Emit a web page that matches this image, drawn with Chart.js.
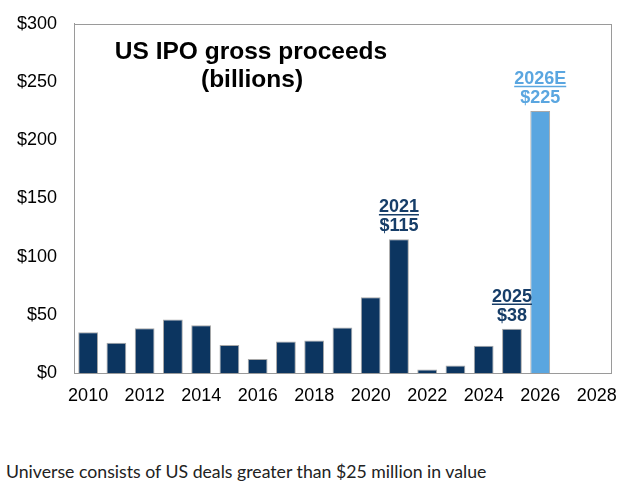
<!DOCTYPE html>
<html>
<head>
<meta charset="utf-8">
<script src="https://cdn.jsdelivr.net/npm/chart.js@4.4.1/dist/chart.umd.min.js"></script>
<style>
  html, body { margin: 0; padding: 0; background: #fff; overflow: hidden; width: 626px; height: 487px; }
  #wrap { position: absolute; left: 0; top: -4px; width: 629px; height: 420px; }
  #note { position: absolute; left: 6px; top: 461px; font-family: Lato, "Open Sans", sans-serif; font-size: 17.7px; line-height: 1.2; color: #222; white-space: nowrap; }
</style>
</head>
<body>
<div id="wrap"><canvas id="c" width="629" height="420"></canvas></div>
<div id="note">Universe consists of US deals greater than $25 million in value</div>
<script>
const years = ['2010','2011','2012','2013','2014','2015','2016','2017','2018','2019','2020','2021','2022','2023','2024','2025','2026','2027','2028'];
const proceeds = [35, 26, 38.5, 46, 41, 24, 12, 27, 28, 39, 65, 115, 3, 6.5, 23.5, 38, 225, null, null];
const estimateYear = '2026';
const yTicks = [0, 50, 100, 150, 200, 250, 300];
const callouts = [
  { year: '2021', label: '2021', value: '$115' },
  { year: '2025', label: '2025', value: '$38' },
  { year: '2026', label: '2026E', value: '$225' }
];
const titleLines = ['US IPO gross proceeds', '(billions)'];

const NAVY = '#0c3560';
const LIGHT = '#5aa6e0';
const NAVY_TXT = '#163d68';
const LIGHT_TXT = '#5aa6e0';

const decor = {
  id: 'decor',
  afterDraw(chart) {
    const ctx = chart.ctx;
    const a = chart.chartArea;
    ctx.save();
    ctx.strokeStyle = '#9a9a9a';
    ctx.lineWidth = 1;
    ctx.strokeRect(Math.round(a.left) + 0.5, Math.round(a.top) + 0.5, Math.round(a.right - a.left), Math.round(a.bottom - a.top));
    ctx.fillStyle = '#000';
    ctx.font = 'bold 24.5px "Liberation Sans", Arial, sans-serif';
    ctx.textAlign = 'center';
    ctx.textBaseline = 'middle';
    ctx.fillText(titleLines[0], 251, 56);
    ctx.fillText(titleLines[1], 252, 84);
    const xs = chart.scales.x, ys = chart.scales.y;
    ctx.font = 'bold 18px "Liberation Sans", Arial, sans-serif';
    callouts.forEach(c => {
      const i = years.indexOf(c.year);
      const x = xs.getPixelForValue(i);
      const top = ys.getPixelForValue(proceeds[i]);
      const col = c.year === estimateYear ? LIGHT_TXT : NAVY_TXT;
      ctx.fillStyle = col;
      ctx.strokeStyle = col;
      ctx.textBaseline = 'alphabetic';
      const yVal = top - 8;
      const yLab = yVal - 19;
      ctx.fillText(c.value, x, yVal);
      ctx.fillText(c.label, x, yLab);
      const w = ctx.measureText(c.label).width;
      ctx.lineWidth = 1.5;
      ctx.beginPath();
      ctx.moveTo(x - w / 2, yLab + 2.5);
      ctx.lineTo(x + w / 2, yLab + 2.5);
      ctx.stroke();
    });
    ctx.restore();
  }
};

new Chart(document.getElementById('c'), {
  type: 'bar',
  data: {
    labels: years,
    datasets: [{
      data: proceeds,
      backgroundColor: years.map(y => y === estimateYear ? LIGHT : NAVY),
      borderColor: '#a8a8a8',
      borderWidth: 1,
      barPercentage: 0.7,
      categoryPercentage: 1.0
    }]
  },
  options: {
    responsive: false,
    animation: false,
    devicePixelRatio: 1,
    layout: { padding: { top: 18, right: 10, left: 0, bottom: 0 } },
    plugins: { legend: { display: false }, tooltip: { enabled: false }, title: { display: false } },
    scales: {
      x: {
        grid: { display: false, drawTicks: false },
        border: { display: true, color: '#9a9a9a' },
        ticks: {
          autoSkip: false,
          maxRotation: 0,
          color: '#000',
          padding: 12,
          font: { family: '"Liberation Sans", Arial, sans-serif', size: 18 },
          callback: (v, i) => (parseInt(years[i]) % 2 === 0 ? years[i] : '')
        },
        afterFit(s) { s.height = 43; }
      },
      y: {
        min: 0, max: 300,
        afterBuildTicks(s) { s.ticks = yTicks.map(v => ({ value: v })); },
        grid: { display: false, drawTicks: false },
        border: { display: true, color: '#9a9a9a' },
        ticks: {
          color: '#000',
          padding: 17,
          font: { family: '"Liberation Sans", Arial, sans-serif', size: 18 },
          callback: v => '$' + v
        },
        afterFit(s) { s.width = 74; }
      }
    }
  },
  plugins: [decor]
});
</script>
</body>
</html>
